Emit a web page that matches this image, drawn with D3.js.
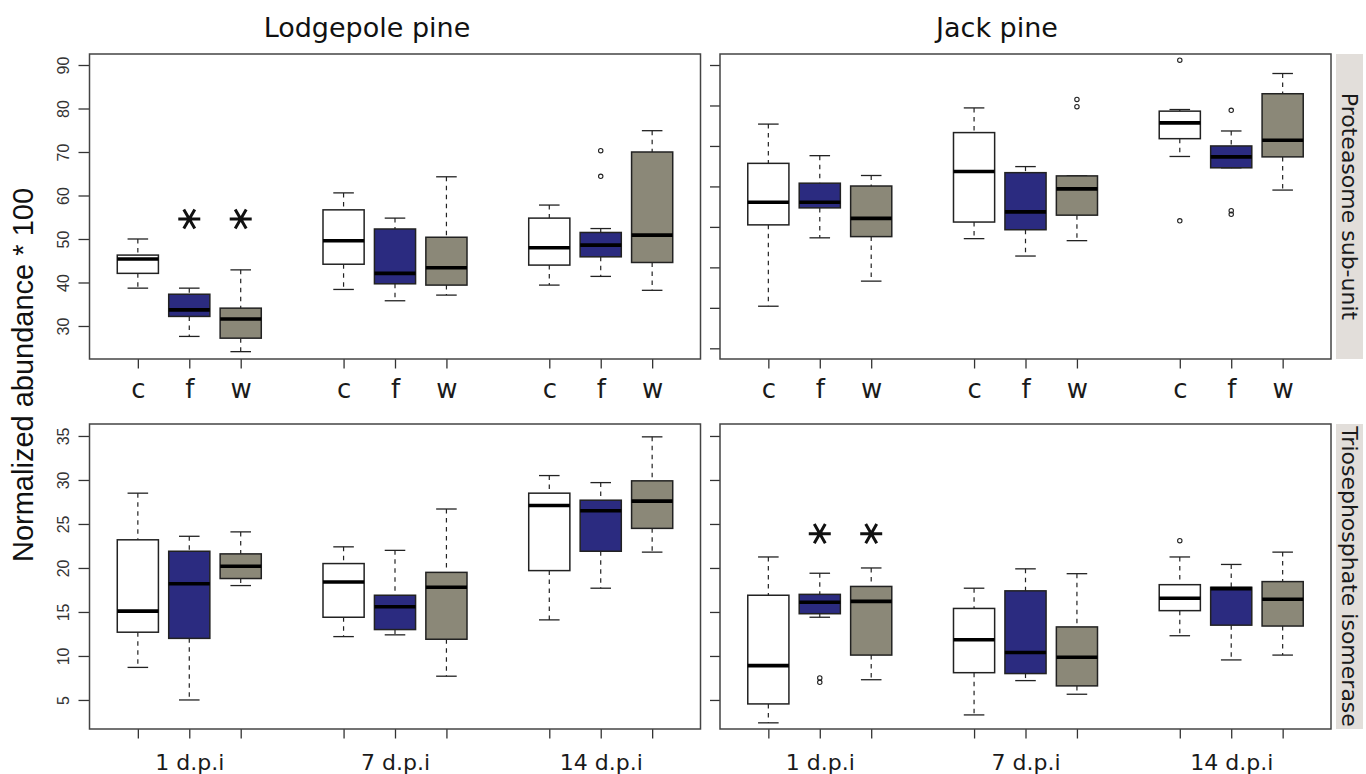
<!DOCTYPE html>
<html>
<head>
<meta charset="utf-8">
<script src="https://cdn.jsdelivr.net/npm/d3@7/dist/d3.min.js"></script>
<style>
  body { margin: 0; background: #fff; }
</style>
</head>
<body>
<div id="chart"></div>
<script>
// categories
const species = ["Lodgepole pine", "Jack pine"];
const proteins = ["Proteasome sub-unit", "Triosephosphate isomerase"];
const groups = ["1 d.p.i", "7 d.p.i", "14 d.p.i"];
const treatments = ["c", "f", "w"];
const positions = [1, 2, 3, 5, 6, 7, 9, 10, 11];
const fills = ["#ffffff", "#2b2b80", "#8b8878"];

// box stats per box: [lower whisker, q1, median, q3, upper whisker]
// order: c,f,w at 1 d.p.i, then 7 d.p.i, then 14 d.p.i
const lodgepoleProteasome = [
  [38.7, 42.1, 45.4, 46.3, 50.0],
  [27.6, 32.2, 33.7, 37.3, 38.7],
  [24.1, 27.2, 31.6, 34.1, 42.9],
  [38.4, 44.2, 49.6, 56.7, 60.6],
  [35.8, 39.7, 42.1, 52.3, 54.8],
  [37.1, 39.4, 43.4, 50.4, 64.3],
  [39.4, 44.0, 48.0, 54.8, 57.8],
  [41.4, 45.9, 48.6, 51.5, 52.4],
  [38.2, 44.6, 50.9, 70.0, 74.9]
];
const lodgepoleProteasomeOut = [[], [], [], [], [], [], [], [64.4, 70.3], []];

const jackProteasome = [
  [30.4, 50.5, 56.1, 65.7, 75.4],
  [47.3, 54.7, 56.1, 60.8, 67.6],
  [36.6, 47.6, 52.1, 60.1, 62.7],
  [47.1, 51.2, 63.7, 73.3, 79.4],
  [42.8, 49.3, 53.7, 63.4, 64.9],
  [46.6, 52.9, 59.4, 62.6, 62.6],
  [67.4, 71.8, 75.7, 78.6, 79.0],
  [64.6, 64.6, 67.3, 70.0, 73.7],
  [59.1, 67.3, 71.4, 82.9, 87.9]
];
const jackProteasomeOut = [[], [], [], [], [], [79.7, 81.5], [51.5, 91.2], [53.1, 54.0, 78.8], []];

const lodgepoleTPI = [
  [8.7, 12.7, 15.1, 23.2, 28.5],
  [5.0, 12.0, 18.2, 21.9, 23.6],
  [18.0, 18.8, 20.2, 21.6, 24.1],
  [12.2, 14.4, 18.4, 20.5, 22.4],
  [12.4, 13.0, 15.6, 16.9, 22.0],
  [7.7, 11.9, 17.8, 19.5, 26.7],
  [14.1, 19.7, 27.1, 28.5, 30.5],
  [17.7, 21.9, 26.5, 27.7, 29.7],
  [21.8, 24.5, 27.6, 29.9, 34.9]
];
const lodgepoleTPIOut = [[], [], [], [], [], [], [], [], []];

const jackTPI = [
  [2.4, 4.55, 8.9, 16.9, 21.25],
  [14.4, 14.8, 16.1, 17.0, 19.4],
  [7.3, 10.1, 16.2, 17.9, 20.0],
  [3.3, 8.1, 11.85, 15.4, 17.7],
  [7.2, 8.0, 10.4, 17.4, 19.9],
  [5.65, 6.6, 9.85, 13.3, 19.35],
  [12.3, 15.15, 16.55, 18.1, 21.25],
  [9.55, 13.5, 17.65, 17.8, 20.4],
  [10.1, 13.4, 16.45, 18.45, 21.8]
];
const jackTPIOut = [[], [7.0, 7.5], [], [], [], [], [23.1], [], []];

// significance stars: [box index, value]
const lodgepoleProteasomeStars = [[1, 54.6], [2, 54.6]];
const jackTPIStars = [[1, 23.9], [2, 23.9]];

// axis ticks
const proteasomeTicks = [30, 40, 50, 60, 70, 80, 90];
const jackProteasomeTicks = [20, 30, 40, 50, 60, 70, 80, 90];
const tpiTicks = [5, 10, 15, 20, 25, 30, 35];

const width = 1366, height = 774;
const cols = [[89.5, 700.5], [720, 1331]];
const rows = [[54, 359], [424, 729]];

const panels = [
  {col: 0, row: 0, stats: lodgepoleProteasome, out: lodgepoleProteasomeOut, domain: [22.41, 92.53], ticks: proteasomeTicks, labels: true, stars: lodgepoleProteasomeStars},
  {col: 1, row: 0, stats: jackProteasome, out: jackProteasomeOut, domain: [17.36, 92.72], ticks: jackProteasomeTicks, labels: false, stars: []},
  {col: 0, row: 1, stats: lodgepoleTPI, out: lodgepoleTPIOut, domain: [1.7, 36.36], ticks: tpiTicks, labels: true, stars: []},
  {col: 1, row: 1, stats: jackTPI, out: jackTPIOut, domain: [1.7, 36.36], ticks: tpiTicks, labels: false, stars: jackTPIStars}
];

const svg = d3.select("#chart").append("svg")
  .attr("width", width)
  .attr("height", height);

const ink = "#222";

// asterisk as three crossing strokes
function starPath(r) {
  const p = d3.path();
  for (let a of [0, 60, 120]) {
    const t = a * Math.PI / 180;
    p.moveTo(-r * Math.cos(t), -r * Math.sin(t));
    p.lineTo(r * Math.cos(t), r * Math.sin(t));
  }
  return p.toString();
}

for (let cfg of panels) {
  const [x0, x1] = cols[cfg.col];
  const [y0, y1] = rows[cfg.row];
  const x = d3.scaleLinear().domain([0.06, 11.94]).range([x0, x1]);
  const y = d3.scaleLinear().domain(cfg.domain).range([y1, y0]);
  const bw = x(1.4) - x(0.6);

  const g = svg.append("g");

  // y axis
  const yAxis = g.append("g")
    .attr("transform", `translate(${x0},0)`)
    .call(d3.axisLeft(y).tickValues(cfg.ticks).tickSize(cfg.col === 0 ? 11 : 10)
      .tickFormat(d => cfg.labels ? d : ""));
  yAxis.select(".domain").remove();
  yAxis.selectAll(".tick line").attr("stroke", "#333").attr("stroke-width", 1.3);
  yAxis.selectAll(".tick text")
    .attr("transform", "rotate(-90)")
    .attr("x", 0)
    .attr("y", -20.5)
    .attr("dy", 0)
    .attr("text-anchor", "middle")
    .attr("font-family", "Liberation Sans, Arial, sans-serif")
    .attr("font-size", 16)
    .attr("fill", "#333");

  // x axis
  const xAxis = g.append("g")
    .attr("transform", `translate(0,${y1})`)
    .call(d3.axisBottom(x).tickValues(positions).tickSize(9.5)
      .tickFormat((d, i) => cfg.row === 0 ? treatments[i % 3] : (i % 3 === 1 ? groups[Math.floor(i / 3)] : "")));
  xAxis.select(".domain").remove();
  xAxis.selectAll(".tick line").attr("stroke", "#333").attr("stroke-width", 1.3);
  xAxis.selectAll(".tick text")
    .attr("y", cfg.row === 0 ? 39 : 41)
    .attr("dy", 0)
    .attr("font-family", "DejaVu Sans, Verdana, sans-serif")
    .attr("font-size", cfg.row === 0 ? 26 : 22)
    .attr("fill", "#1a1a1a");

  // frame
  g.append("rect")
    .attr("x", x0).attr("y", y0)
    .attr("width", x1 - x0).attr("height", y1 - y0)
    .attr("fill", "none")
    .attr("stroke", "#444")
    .attr("stroke-width", 1.5);

  const boxes = g.selectAll(".box")
    .data(cfg.stats.map((s, i) => ({s, i, pos: positions[i], out: cfg.out[i]})))
    .join("g")
    .attr("class", "box");

  // whiskers
  boxes.append("line")
    .attr("x1", d => x(d.pos)).attr("x2", d => x(d.pos))
    .attr("y1", d => y(d.s[4])).attr("y2", d => y(d.s[3]))
    .attr("stroke", ink).attr("stroke-width", 1.2).attr("stroke-dasharray", "4.5,4.5");
  boxes.append("line")
    .attr("x1", d => x(d.pos)).attr("x2", d => x(d.pos))
    .attr("y1", d => y(d.s[1])).attr("y2", d => y(d.s[0]))
    .attr("stroke", ink).attr("stroke-width", 1.2).attr("stroke-dasharray", "4.5,4.5");

  // staples
  for (let k of [0, 4]) {
    boxes.append("line")
      .attr("x1", d => x(d.pos) - bw / 4).attr("x2", d => x(d.pos) + bw / 4)
      .attr("y1", d => y(d.s[k])).attr("y2", d => y(d.s[k]))
      .attr("stroke", ink).attr("stroke-width", 1.3);
  }

  // boxes
  boxes.append("rect")
    .attr("x", d => x(d.pos) - bw / 2)
    .attr("width", bw)
    .attr("y", d => y(d.s[3]))
    .attr("height", d => y(d.s[1]) - y(d.s[3]))
    .attr("fill", d => fills[d.i % 3])
    .attr("stroke", ink)
    .attr("stroke-width", 1.5);

  // medians
  boxes.append("line")
    .attr("x1", d => x(d.pos) - bw / 2).attr("x2", d => x(d.pos) + bw / 2)
    .attr("y1", d => y(d.s[2])).attr("y2", d => y(d.s[2]))
    .attr("stroke", "#000").attr("stroke-width", 3.6);

  // outliers
  boxes.selectAll("circle")
    .data(d => d.out.map(v => ({v, pos: d.pos})))
    .join("circle")
    .attr("cx", d => x(d.pos))
    .attr("cy", d => y(d.v))
    .attr("r", 2.2)
    .attr("fill", "none")
    .attr("stroke", ink)
    .attr("stroke-width", 1.1);

  // stars
  g.selectAll(".star")
    .data(cfg.stars)
    .join("path")
    .attr("class", "star")
    .attr("transform", d => `translate(${x(positions[d[0]])},${y(d[1])})`)
    .attr("d", starPath(11))
    .attr("stroke", "#111")
    .attr("stroke-width", 3)
    .attr("stroke-linecap", "butt");
}

// column titles
svg.selectAll(".title")
  .data(species)
  .join("text")
  .attr("class", "title")
  .attr("x", (d, i) => i === 0 ? 367 : 997)
  .attr("y", 37)
  .attr("text-anchor", "middle")
  .attr("font-family", "DejaVu Sans, Verdana, sans-serif")
  .attr("font-size", 27)
  .attr("fill", "#111")
  .text(d => d);

// row strips
const strips = svg.selectAll(".strip")
  .data(proteins)
  .join("g")
  .attr("class", "strip");
strips.append("rect")
  .attr("x", 1336)
  .attr("y", (d, i) => rows[i][0])
  .attr("width", 27)
  .attr("height", (d, i) => rows[i][1] - rows[i][0])
  .attr("fill", "#e2deda");
strips.append("text")
  .attr("transform", (d, i) => `translate(1342,${(rows[i][0] + rows[i][1]) / 2}) rotate(90)`)
  .attr("text-anchor", "middle")
  .attr("font-family", "DejaVu Sans, Verdana, sans-serif")
  .attr("font-size", 22)
  .attr("fill", "#1a1a1a")
  .text(d => d);

// y label
svg.append("text")
  .attr("transform", "translate(33,375) rotate(-90)")
  .attr("text-anchor", "middle")
  .attr("font-family", "Liberation Sans, Arial, sans-serif")
  .attr("font-size", 29)
  .attr("fill", "#111")
  .text("Normalized abundance * 100");
</script>
</body>
</html>
